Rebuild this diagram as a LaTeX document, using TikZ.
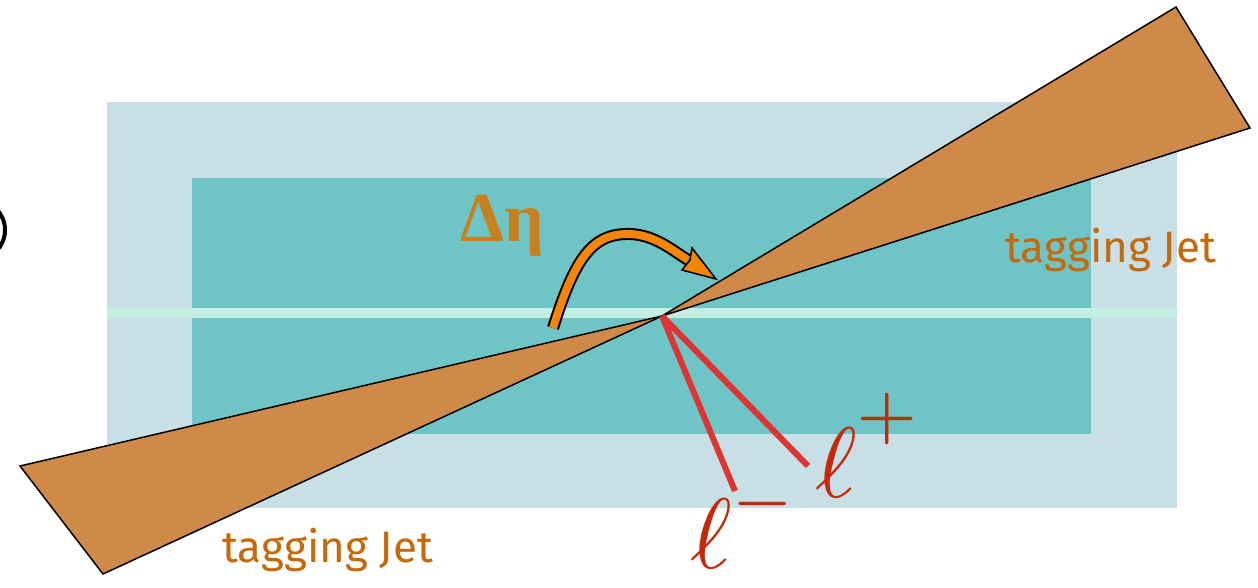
\documentclass[tikz,border=0pt]{standalone}
\usepackage{fontspec}
\setmainfont{Fira Sans}
\newfontfamily\greekserif{Liberation Serif}
\begin{document}
\begin{tikzpicture}[x=1pt,y=-1pt]
\definecolor{outerblue}{HTML}{C8DFE6}
\definecolor{innerteal}{HTML}{6FC4C6}
\definecolor{midline}{HTML}{C4EDE4}
\definecolor{jetfill}{HTML}{CF8A4A}
\definecolor{leptred}{HTML}{DF3434}
\definecolor{labelred}{HTML}{C42A0A}
\definecolor{jettext}{HTML}{C46A0A}
\definecolor{etatext}{HTML}{C8801E}
\definecolor{arroworange}{HTML}{F58505}
\tikzset{
  jet/.style={fill=jetfill,draw=black,line width=1.5pt,line join=miter},
  lepton/.style={draw=leptred,line width=6pt},
  jetlabel/.style={text=jettext,font=\fontsize{44}{44}\selectfont,inner sep=0pt,anchor=base west},
  elllabel/.style={text=labelred,inner sep=0pt,anchor=base west}
}
\useasboundingbox (0,0) rectangle (1258,587);
% detector regions
\fill[outerblue] (107,102) rectangle (1177,508);
\fill[innerteal] (192,178) rectangle (1091,434);
\fill[midline] (107,308) rectangle (1177,318);
% partial circle at left edge
\draw[line width=4pt] (-25,230) circle (30);
% vertex
\coordinate (v) at (662,316);
\coordinate (jr1) at (1176,7);
\coordinate (jr2) at (1250,128);
\coordinate (jl1) at (20,466);
\coordinate (jl2) at (103,574);
\draw[jet] (v) -- (jr1) -- (jr2) -- cycle;
\draw[jet] (v) -- (jl1) -- (jl2) -- cycle;
% leptons
\coordinate (lm) at (735,491);
\coordinate (lp) at (808,466);
\draw[lepton] (v) -- (lm);
\draw[lepton] (v) -- (lp);
\node[elllabel] (lplus) at (815,497) {\scalebox{10}{$\ell^{\raisebox{2.4pt}{$\scriptstyle +$}}$}};
\node[elllabel] (lminus) at (690,568) {\scalebox{10}{$\ell^{\raisebox{1.0pt}{$\scriptstyle -$}}$}};
% delta eta
\node[text=etatext,font=\greekserif\bfseries\fontsize{70}{70}\selectfont,inner sep=0pt,anchor=base west] (deta) at (460,241) {Δη};
% arrow
\coordinate (as) at (553,328);
\coordinate (ae) at (688,260);
\draw[line width=12pt,black] (as) .. controls (575,258) and (592,233) .. (630,234) .. controls (655,235) and (672,250) .. (ae);
\draw[line width=8pt,arroworange] (as) .. controls (575,258) and (592,233) .. (630,234) .. controls (655,235) and (672,250) .. (ae);
\filldraw[fill=arroworange,draw=black,line width=1.5pt,line join=miter] (716,279) -- (692,248) -- (690,260) -- (682,270) -- cycle;
% labels
\node[jetlabel] (jetR) at (1005,262) {tagging Jet};
\node[jetlabel] (jetL) at (222,562) {tagging Jet};
\end{tikzpicture}
\end{document}
